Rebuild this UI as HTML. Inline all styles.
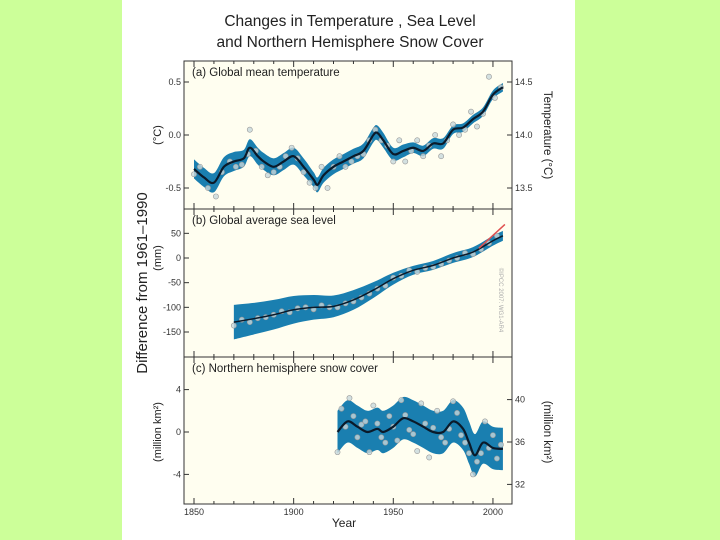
<!DOCTYPE html>
<html><head><meta charset="utf-8"><style>
html,body{margin:0;padding:0;background:#ccff99;}
svg{display:block;font-family:"Liberation Sans",sans-serif;}
</style></head><body>
<svg id="c" width="720" height="540" viewBox="0 0 720 540">
<rect x="0" y="0" width="720" height="540" fill="#ccff99"/>
<rect x="122" y="0" width="453" height="540" fill="#ffffff"/>
<text x="350" y="26" font-size="15.5" text-anchor="middle" fill="#222">Changes in Temperature , Sea Level</text>
<text x="350" y="47" font-size="15.5" text-anchor="middle" fill="#222">and Northern Hemisphere Snow Cover</text>
<g id="g"></g>
</svg>
<script>
// ---- data ----
const tempYears=[1850,1855,1860,1865,1870,1875,1878,1882,1885,1890,1895,1900,1905,1910,1912,1915,1920,1925,1930,1935,1940,1942,1945,1950,1955,1960,1965,1970,1975,1980,1985,1990,1995,2000,2005];
const tempVals=[-0.32,-0.4,-0.45,-0.3,-0.25,-0.22,-0.12,-0.2,-0.25,-0.3,-0.25,-0.2,-0.3,-0.42,-0.47,-0.38,-0.3,-0.25,-0.2,-0.15,0.0,0.02,-0.05,-0.18,-0.15,-0.12,-0.15,-0.08,-0.08,0.05,0.07,0.15,0.22,0.38,0.45];
const tempUnc=[0.09,0.09,0.09,0.09,0.09,0.08,0.08,0.08,0.08,0.08,0.08,0.08,0.08,0.07,0.07,0.07,0.07,0.07,0.07,0.07,0.07,0.07,0.07,0.06,0.06,0.05,0.05,0.05,0.05,0.04,0.04,0.04,0.04,0.04,0.04];
const tempPtYears=[1850,1853,1857,1861,1864,1868,1871,1874,1877,1878,1881,1884,1887,1890,1893,1896,1899,1902,1905,1908,1911,1914,1917,1920,1923,1926,1929,1932,1935,1938,1941,1944,1947,1950,1953,1956,1959,1962,1965,1968,1971,1974,1977,1980,1983,1986,1989,1992,1995,1998,2001,2004];
const tempPtVals=[-0.37,-0.3,-0.5,-0.58,-0.35,-0.25,-0.3,-0.28,-0.18,0.05,-0.15,-0.3,-0.38,-0.35,-0.3,-0.2,-0.12,-0.22,-0.35,-0.45,-0.5,-0.3,-0.5,-0.3,-0.2,-0.3,-0.25,-0.2,-0.18,-0.05,0.05,-0.05,-0.1,-0.25,-0.05,-0.25,-0.15,-0.05,-0.2,-0.1,0.0,-0.2,-0.05,0.1,0.0,0.05,0.22,0.08,0.2,0.55,0.35,0.45];
const seaYears=[1870,1880,1890,1900,1910,1920,1930,1940,1950,1960,1970,1980,1990,2000,2005];
const seaVals=[-130,-123,-115,-105,-100,-98,-85,-65,-42,-25,-15,0,12,35,45];
const seaUnc=[35,32,30,28,25,22,20,16,12,9,9,10,10,10,10];
const seaPtYears=[1870,1874,1878,1882,1886,1890,1894,1898,1902,1906,1910,1914,1918,1922,1926,1930,1934,1938,1942,1946,1950,1954,1958,1962,1966,1970,1974,1978,1982,1986,1990,1994,1998,2002];
const seaPtVals=[-137,-125,-130,-122,-120,-115,-108,-110,-102,-100,-104,-96,-100,-100,-92,-88,-80,-72,-62,-56,-40,-36,-25,-28,-20,-18,-12,-5,0,10,8,18,30,45];
const seaTrendYears=[1993,2006];
const seaTrendVals=[20,68];
const snowYears=[1922,1927,1932,1937,1942,1945,1950,1955,1960,1965,1970,1975,1980,1985,1988,1991,1995,2000,2005];
const snowVals=[0,1,0.5,0,0.3,0,0.5,1.3,1,0.5,0,0,1,0.3,-1,-2.2,-1,-1.5,-1.6];
const snowPtYears=[1922,1924,1926,1928,1930,1932,1934,1936,1938,1940,1942,1944,1946,1948,1950,1952,1954,1956,1958,1960,1962,1964,1966,1968,1970,1972,1974,1976,1978,1980,1982,1984,1986,1988,1990,1992,1994,1996,1998,2000,2002,2004];
const snowPtVals=[-1.9,2.2,0.5,3.2,1.5,-0.5,0.7,1.0,-1.9,2.5,0.8,-0.5,-1.0,1.5,0.5,-0.8,3.0,1.6,0.2,-0.2,-1.8,2.7,0.8,-2.4,0.4,2.0,-0.5,-1.0,0.3,2.9,1.8,-0.3,-1.0,-2.0,-4.0,-2.8,-2.0,1.0,-1.5,-0.3,-2.5,-1.2];
const xTicks=[1850,1900,1950,2000];
const tempTicks=[0.5,0.0,-0.5];
const tempTickLabels=["0.5","0.0","-0.5"];
const tempRightTicks=[14.5,14.0,13.5];
const tempRightLabels=["14.5","14.0","13.5"];
const seaTicks=[50,0,-50,-100,-150];
const snowTicks=[4,0,-4];
const snowRightTicks=[40,36,32];

// ---- axes ----
const L=184,R=512;
const X=y=>194+(y-1850)*1.993;
const yA=v=>135-v*106;
const yAr=v=>135-(v-14.0)*106;
const yB=v=>258-v*0.4933;
const yC=v=>432-v*10.6;
const yCr=v=>442-(v-36)*10.6;
const panels=[{t:61,b:209},{t:209,b:357},{t:357,b:504}];
const NS="http://www.w3.org/2000/svg";
const g=document.getElementById('g');
function mk(tag,attrs,parent){const e=document.createElementNS(NS,tag);for(const k in attrs)e.setAttribute(k,attrs[k]);(parent||g).appendChild(e);return e;}
function txt(s,attrs){const e=mk('text',attrs);e.textContent=s;return e;}

panels.forEach((p,i)=>{
  const r=mk('rect',{x:L,y:p.t,width:R-L,height:p.b-p.t,fill:'#fffef0'});
  
  
});
function smooth(xs,ys){
  const P=xs.map((x,i)=>[x,ys[i]]);let d='M'+P[0][0]+','+P[0][1];
  for(let i=0;i<P.length-1;i++){const p0=P[i-1]||P[i],p1=P[i],p2=P[i+1],p3=P[i+2]||p2;
    d+=' C'+(p1[0]+(p2[0]-p0[0])/6)+','+(p1[1]+(p2[1]-p0[1])/6)+' '+(p2[0]-(p3[0]-p1[0])/6)+','+(p2[1]-(p3[1]-p1[1])/6)+' '+p2[0]+','+p2[1];}
  return d;}
function band(years,vals,unc,yf,name){
  const xs=years.map(X);
  const up=smooth(xs,vals.map((v,i)=>yf(v+unc[i])));
  const loR=smooth(xs.slice().reverse(),vals.map((v,i)=>yf(v-unc[i])).reverse());
  const e=mk('path',{d:up+' L'+loR.slice(1)+' Z',fill:'#1a7fb0'});
  
  
}
function pts(years,vals,yf,name){
  years.forEach((y,i)=>{const c=mk('circle',{cx:X(y),cy:yf(vals[i]),r:2.6,fill:'#c8d8dc','fill-opacity':0.8,stroke:'#999','stroke-width':0.6});
    
    });
}
function line(years,vals,yf,name,col,w){
  const e=mk('path',{d:smooth(years.map(X),vals.map(yf)),fill:'none',stroke:col,'stroke-width':w});
  
  
}
band(tempYears,tempVals,tempUnc,yA,'temperature');
pts(tempPtYears,tempPtVals,yA,'temperature');
line(tempYears,tempVals,yA,'temperature-smoothed-line','#0a1a2a',2.2);
band(seaYears,seaVals,seaUnc,yB,'sea-level');
pts(seaPtYears,seaPtVals,yB,'sea-level');
line(seaYears,seaVals,yB,'sea-level-smoothed-line','#0a1a2a',1.5);
line(seaTrendYears,seaTrendVals,yB,'sea-level-satellite-line','#e05050',1.5);
band(snowYears,snowVals,snowYears.map(()=>2),yC,'snow-cover');
pts(snowPtYears,snowPtVals,yC,'snow-cover');
line(snowYears,snowVals,yC,'snow-cover-smoothed-line','#0a1a2a',2.2);

panels.forEach((p,i)=>{
  const f=mk('rect',{x:L,y:p.t,width:R-L,height:p.b-p.t,fill:'none',stroke:'#333','stroke-width':1});
  
  
  for(let y=1850;y<=2000;y+=10){const big=xTicks.includes(y);
    mk('line',{x1:X(y),x2:X(y),y1:p.b,y2:p.b-(big?6:3),stroke:'#333'});
    mk('line',{x1:X(y),x2:X(y),y1:p.t,y2:p.t+(big?6:3),stroke:'#333'});}
});
function yt(vals,labels,yf,side,name,size){
  vals.forEach((v,i)=>{const y=yf(v);
    if(side==='l'){mk('line',{x1:L,x2:L+5,y1:y,y2:y,stroke:'#333'});
      const t=txt(labels[i],{x:L-3,y:y+3,'font-size':size||9,'text-anchor':'end',fill:'#333'});
      }
    else{mk('line',{x1:R,x2:R-5,y1:y,y2:y,stroke:'#333'});
      const t=txt(labels[i],{x:R+3,y:y+3,'font-size':size||9,fill:'#333'});
      }
  });}
yt(tempTicks,tempTickLabels,yA,'l','temp-y');
yt(tempRightTicks,tempRightLabels,yAr,'r','temp-right-y');
yt(seaTicks,seaTicks.map(String),yB,'l','sea-y');
yt(snowTicks,snowTicks.map(String),yC,'l','snow-y');
yt(snowRightTicks,snowRightTicks.map(String),yCr,'r','snow-right-y');
xTicks.forEach(y=>{const t=txt(String(y),{x:X(y),y:515,'font-size':9,'text-anchor':'middle',fill:'#333'});
  });

function lab(s,x,y,size,name,rot,extra){
  const a={x:x,y:y,'font-size':size,fill:'#222'};if(rot)a.transform='rotate('+rot+' '+x+' '+y+')';if(extra)Object.assign(a,extra);
  const t=txt(s,a);return t;}
lab('(a) Global mean temperature',192,76,11.5,'panel-a-label');
lab('(b) Global average sea level',192,224,11.5,'panel-b-label');
lab('(c) Northern hemisphere snow cover',192,372,11.5,'panel-c-label');
lab('Difference from 1961\u20131990',147,283,15,'y-axis-title',-90,{'text-anchor':'middle'});
lab('(\u00B0C)',161,135,11,'temp-unit-label',-90,{'text-anchor':'middle'});
lab('(mm)',161,258,11,'sea-unit-label',-90,{'text-anchor':'middle'});
lab('(million km\u00B2)',161,432,11,'snow-unit-label',-90,{'text-anchor':'middle'});
lab('Temperature (\u00B0C)',544,135,11.5,'temp-right-axis-title',90,{'text-anchor':'middle'});
lab('(million km\u00B2)',544,432,11.5,'snow-right-axis-title',90,{'text-anchor':'middle'});
lab('Year',344,527,12,'x-axis-title',0,{'text-anchor':'middle'});
lab('\u00A9IPCC 2007: WG1-AR4',499,300,6,'watermark',90,{'text-anchor':'middle',fill:'#aaa'});
</script>
</body></html>
